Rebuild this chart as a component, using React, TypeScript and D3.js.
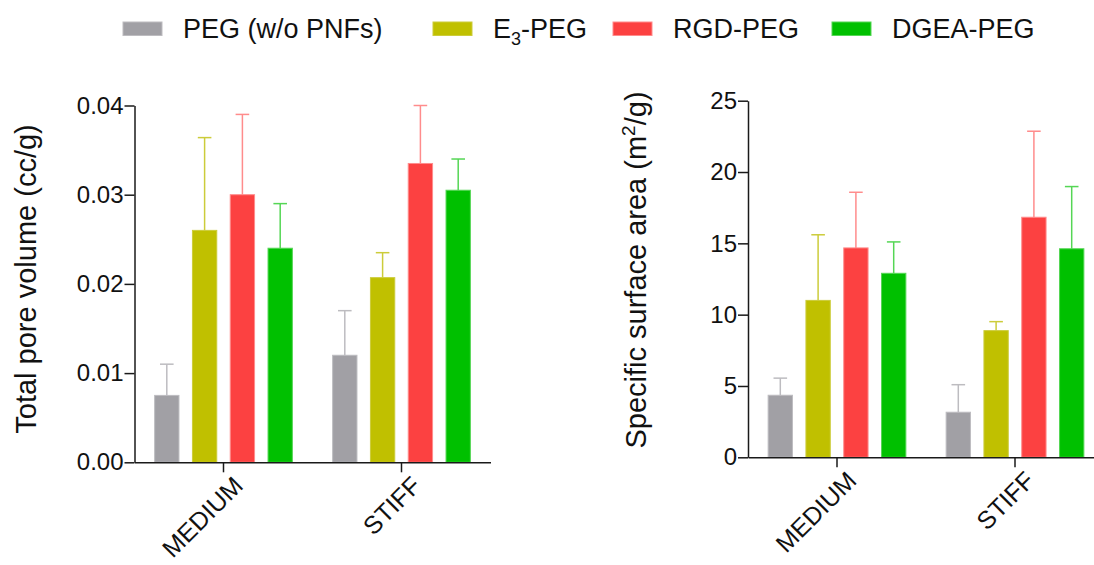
import React, { useEffect, useRef } from 'react';
import * as d3 from 'd3';

// data
const categories = ['MEDIUM', 'STIFF'];
const seriesNames = ['PEG (w/o PNFs)', 'E3-PEG', 'RGD-PEG', 'DGEA-PEG'];
const fillColors = ['#a1a0a5', '#c0c000', '#fc4141', '#00c000'];
const lightColors = ['#bdbcc0', '#cccc3a', '#ff8c8c', '#55d655'];

// total pore volume (cc/g): mean and SD, per category then per series
const poreMean = [
  [0.0075, 0.026, 0.030, 0.024],
  [0.012, 0.0207, 0.0335, 0.0305],
];
const poreSd = [
  [0.0035, 0.0104, 0.009, 0.005],
  [0.005, 0.0028, 0.0065, 0.0035],
];
const poreTicks = [0, 0.01, 0.02, 0.03, 0.04];

// specific surface area (m2/g)
const areaMean = [
  [4.35, 11.0, 14.68, 12.9],
  [3.16, 8.88, 16.83, 14.62],
];
const areaSd = [
  [1.2, 4.6, 3.9, 2.2],
  [1.93, 0.63, 6.03, 4.36],
];
const areaTicks = [0, 5, 10, 15, 20, 25];

const FONT = "'Liberation Sans', Arial, Helvetica, sans-serif";

function drawPanel(svg, opt) {
  const x = d3.scaleBand().domain(categories).range(opt.xRange);
  const inner = d3.scaleBand().domain(seriesNames)
    .range([-75.6, 75.6]).paddingInner(0.33).paddingOuter(0.165);
  const y = d3.scaleLinear().domain([0, opt.max]).range(opt.yRange);

  const g = svg.append('g');
  const rows = [];
  categories.forEach((c, ci) => {
    seriesNames.forEach((s, si) => {
      rows.push({ c, s, si, v: opt.means[ci][si], e: opt.sds[ci][si] });
    });
  });

  const cx = d => x(d.c) + x.bandwidth() / 2 + inner(d.s);

  // error bars (upper only)
  g.selectAll('line.err').data(rows).enter().append('line')
    .attr('x1', d => cx(d) + inner.bandwidth() / 2)
    .attr('x2', d => cx(d) + inner.bandwidth() / 2)
    .attr('y1', d => y(d.v))
    .attr('y2', d => y(d.v + d.e))
    .attr('stroke', d => lightColors[d.si])
    .attr('stroke-width', 1.5);
  g.selectAll('line.cap').data(rows).enter().append('line')
    .attr('x1', d => cx(d) + inner.bandwidth() / 2 - 6.8)
    .attr('x2', d => cx(d) + inner.bandwidth() / 2 + 6.8)
    .attr('y1', d => y(d.v + d.e))
    .attr('y2', d => y(d.v + d.e))
    .attr('stroke', d => lightColors[d.si])
    .attr('stroke-width', 1.5);

  g.selectAll('rect').data(rows).enter().append('rect')
    .attr('x', d => cx(d) + 0.5)
    .attr('y', d => y(d.v))
    .attr('width', inner.bandwidth() - 1)
    .attr('height', d => y(0) - y(d.v))
    .attr('fill', d => fillColors[d.si])
    .attr('stroke', d => lightColors[d.si])
    .attr('stroke-width', 1);

  const axisY = svg.append('g')
    .attr('transform', `translate(${opt.xRange[0]},0)`)
    .attr('color', '#1a1a1a')
    .call(d3.axisLeft(y).tickValues(opt.ticks).tickFormat(opt.format)
      .tickSize(10).tickSizeOuter(0).tickPadding(1));
  axisY.selectAll('path, line').attr('stroke-width', 1.5);
  axisY.selectAll('text').attr('font-size', 24).attr('font-family', FONT).attr('fill', '#111');

  const axisX = svg.append('g')
    .attr('transform', `translate(0,${opt.yRange[0]})`)
    .attr('color', '#1a1a1a')
    .call(d3.axisBottom(x).tickSize(10).tickSizeOuter(0).tickFormat(() => ''));
  axisX.selectAll('path, line').attr('stroke-width', 1.5);

  // rotated category labels
  svg.append('g').selectAll('text').data(categories).enter().append('text')
    .attr('transform', d =>
      `translate(${x(d) + x.bandwidth() / 2 + 21},${opt.yRange[0] + 25}) rotate(-45)`)
    .attr('text-anchor', 'end')
    .attr('font-family', FONT)
    .attr('font-size', 25)
    .attr('fill', '#111')
    .text(d => d);

  const title = svg.append('text')
    .attr('transform', `translate(${opt.titlePos[0]},${opt.titlePos[1]}) rotate(-90)`)
    .attr('text-anchor', 'middle')
    .attr('font-family', FONT)
    .attr('font-size', 29)
    .attr('fill', '#111');
  opt.title.forEach(part => {
    const t = title.append('tspan').text(part.t);
    if (part.sup) t.attr('font-size', 19).attr('dy', -11);
    if (part.after) t.attr('dy', 11);
  });
}

const App = () => {
  const ref = useRef(null);

  useEffect(() => {
    d3.select(ref.current).select('svg').remove();
    const svg = d3.select(ref.current).append('svg')
      .attr('width', 1094)
      .attr('height', 565)
      .style('display', 'block')
      .style('background', '#fff');

    // legend
    const legendX = [123, 433, 613, 832];
    const leg = svg.append('g');
    seriesNames.forEach((s, i) => {
      leg.append('rect')
        .attr('x', legendX[i]).attr('y', 22)
        .attr('width', 39).attr('height', 13.5)
        .attr('fill', fillColors[i])
        .attr('stroke', lightColors[i]).attr('stroke-width', 1);
      const t = leg.append('text')
        .attr('x', legendX[i] + 60).attr('y', 37.5)
        .attr('font-family', FONT).attr('font-size', 27).attr('fill', '#111');
      if (s === 'E3-PEG') {
        t.append('tspan').text('E');
        t.append('tspan').text('3').attr('font-size', 18).attr('dy', 7);
        t.append('tspan').text('-PEG').attr('dy', -7);
      } else {
        t.text(s);
      }
    });

    drawPanel(svg, {
      xRange: [134.5, 490.5],
      yRange: [462.3, 105.5],
      max: 0.04,
      ticks: poreTicks,
      format: d3.format('.2f'),
      means: poreMean,
      sds: poreSd,
      titlePos: [36, 279],
      title: [{ t: 'Total pore volume (cc/g)' }],
    });

    drawPanel(svg, {
      xRange: [748, 1104],
      yRange: [457.3, 100.7],
      max: 25,
      ticks: areaTicks,
      format: d3.format('d'),
      means: areaMean,
      sds: areaSd,
      titlePos: [646, 270],
      title: [
        { t: 'Specific surface area (m' },
        { t: '2', sup: true },
        { t: '/g)', after: true },
      ],
    });
  }, []);

  return <div ref={ref} style={{ position: 'absolute', left: 0, top: 0 }}></div>;
};

export default App;
